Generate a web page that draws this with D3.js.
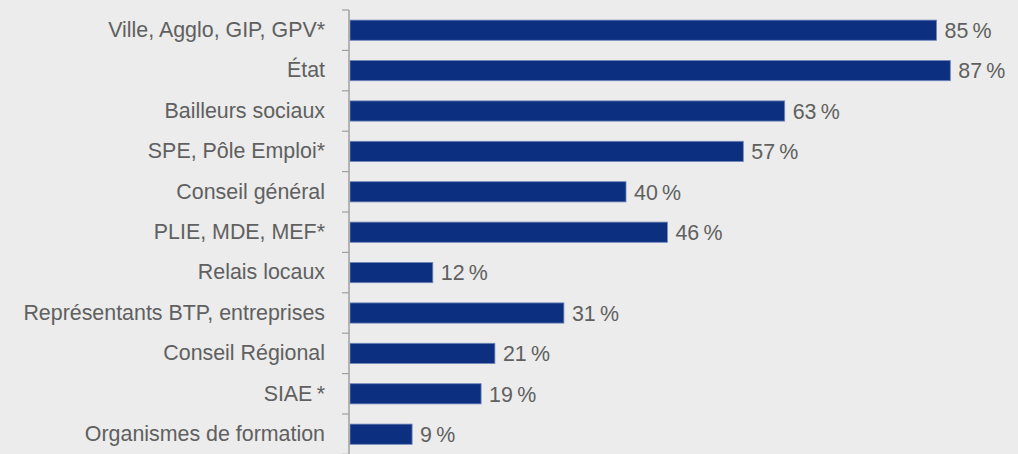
<!DOCTYPE html>
<html>
<head>
<meta charset="utf-8">
<script src="https://cdn.jsdelivr.net/npm/d3@7"></script>
<style>
  html, body { margin: 0; padding: 0; background: #ebeceb; }
  svg { display: block; }
  text { font-family: "Liberation Sans", Arial, sans-serif; }
</style>
</head>
<body>
<script>
// Partner categories and the share of respondents citing each one (%)
const categories = [
  "Ville, Agglo, GIP, GPV*",
  "État",
  "Bailleurs sociaux",
  "SPE, Pôle Emploi*",
  "Conseil général",
  "PLIE, MDE, MEF*",
  "Relais locaux",
  "Représentants BTP, entreprises",
  "Conseil Régional",
  "SIAE\u2009*",
  "Organismes de formation"
];
const values = [85, 87, 63, 57, 40, 46, 12, 31, 21, 19, 9];

const W = 1018, H = 454;
const axisX = 349;
const plotTop = 10, step = 40.4;
const fontSize = 21.4;
const textColor = "#606060";

const svg = d3.select("body").append("svg")
  .attr("width", W).attr("height", H);

svg.append("rect").attr("width", W).attr("height", H).attr("fill", "#ebeceb");

const x = d3.scaleLinear().domain([0, 100]).range([axisX + 1, axisX + 1 + 690]);
const y = d3.scaleBand()
  .domain(categories)
  .range([plotTop, plotTop + step * categories.length])
  .paddingInner(0.5)
  .paddingOuter(0.25);

// Bars
svg.append("g").selectAll("rect")
  .data(values)
  .join("rect")
  .attr("x", x(0))
  .attr("y", (d, i) => y(categories[i]))
  .attr("width", d => x(d) - x(0))
  .attr("height", y.bandwidth())
  .attr("fill", "#0c2f80")
  .attr("stroke", "#6f86b8")
  .attr("stroke-width", 0.8);

// Value labels
svg.append("g").selectAll("text")
  .data(values)
  .join("text")
  .attr("x", d => x(d) + 8)
  .attr("y", (d, i) => y(categories[i]) + y.bandwidth() / 2)
  .attr("dy", "0.36em")
  .attr("font-size", fontSize)
  .attr("fill", textColor)
  .text(d => d + "\u202F%");

// Category axis: vertical line with ticks between bands
const yAxis = d3.axisLeft(y).tickSize(0).tickPadding(24);
const gAxis = svg.append("g").attr("transform", `translate(${axisX},0)`).call(yAxis);
gAxis.select(".domain").remove();
gAxis.selectAll("text")
  .attr("font-size", fontSize)
  .attr("fill", textColor)
  .attr("font-family", "'Liberation Sans', Arial, sans-serif");

const boundaries = categories.map(c => y(c) - y.step() * y.paddingOuter());
boundaries.push(plotTop + step * categories.length);

svg.append("line")
  .attr("x1", axisX).attr("x2", axisX)
  .attr("y1", plotTop).attr("y2", H)
  .attr("stroke", "#a0a0a0").attr("stroke-width", 1.5);

svg.append("g").selectAll("line")
  .data(boundaries)
  .join("line")
  .attr("x1", axisX - 7).attr("x2", axisX)
  .attr("y1", d => d).attr("y2", d => d)
  .attr("stroke", "#a0a0a0").attr("stroke-width", 1.2);
</script>
</body>
</html>
